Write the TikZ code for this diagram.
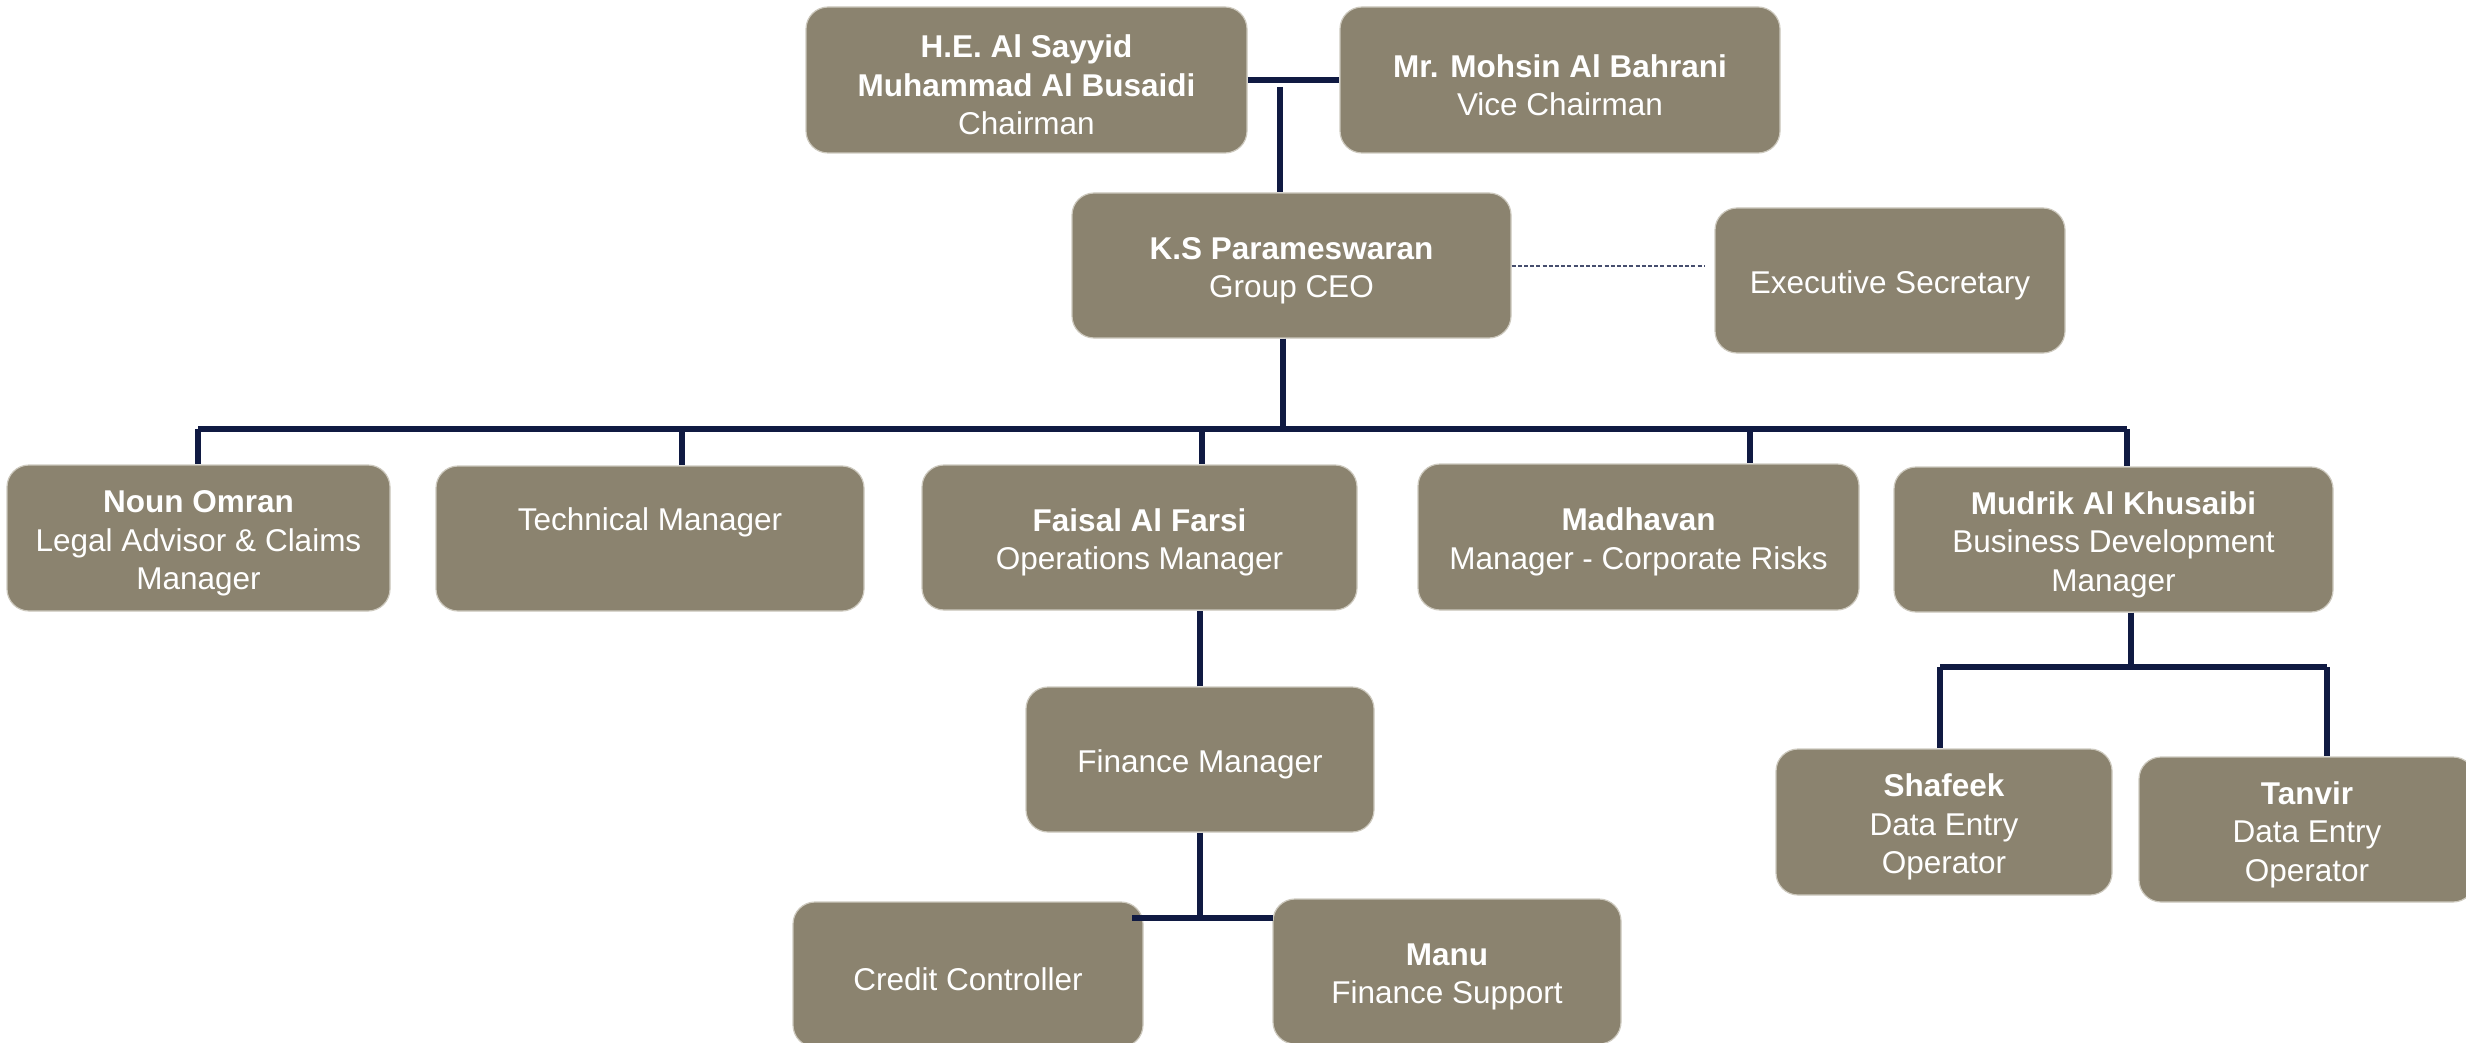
\documentclass[tikz,border=0pt]{standalone}
\usepackage{fontspec}
\setmainfont{Liberation Sans}
\definecolor{boxfill}{RGB}{139,131,111}
\definecolor{boxedge}{RGB}{205,201,190}
\definecolor{navy}{RGB}{16,26,66}
\definecolor{dashcol}{RGB}{70,78,110}
\newcommand{\fstrut}{\rule{0pt}{16.5pt}}
\begin{document}
\begin{tikzpicture}[x=0.5pt,y=-0.5pt,
  orgbox/.style={draw=boxedge, line width=0.6pt, fill=boxfill, rounded corners=11pt,
    text=white, align=center, inner sep=0pt,
    font=\fontsize{15.75}{19.25}\selectfont},
  link/.style={draw=navy, line width=2.6pt},
  dotlink/.style={draw=dashcol, line width=0.9pt, dash pattern=on 2pt off 1.1pt}]
\useasboundingbox (0,0) rectangle (2466,1043);

% boxes
\node[orgbox, minimum width=220.5pt, minimum height=73pt] (chair) at (1026.5,80)
  {\fstrut\textbf{H.E. Al Sayyid}\\\textbf{Muhammad Al Busaidi}\\Chairman};
\node[orgbox, minimum width=220pt, minimum height=73pt] (vice) at (1560,80)
  {\fstrut\textbf{Mr. Mohsin Al Bahrani}\\Vice Chairman};
\node[orgbox, minimum width=219.5pt, minimum height=72.5pt] (ceo) at (1291.5,265.5)
  {\fstrut\textbf{K.S Parameswaran}\\Group CEO};
\node[orgbox, minimum width=175pt, minimum height=72.5pt] (exec) at (1890,280.5)
  {\fstrut Executive Secretary};
\node[orgbox, minimum width=191.5pt, minimum height=73pt] (noun) at (198.5,538)
  {\fstrut\textbf{Noun Omran}\\Legal Advisor \& Claims\\Manager};
\node[orgbox, minimum width=214pt, minimum height=72.5pt,
  label={[text=white, font=\fontsize{15.75}{19.25}\selectfont, yshift=8pt]center:Technical Manager}] (tech) at (650,538.5) {};
\node[orgbox, minimum width=217.5pt, minimum height=72.5pt] (faisal) at (1139.5,537.5)
  {\fstrut\textbf{Faisal Al Farsi}\\Operations Manager};
\node[orgbox, minimum width=220.5pt, minimum height=73pt] (madh) at (1638.5,537)
  {\fstrut\textbf{Madhavan}\\Manager - Corporate Risks};
\node[orgbox, minimum width=219.5pt, minimum height=72.5pt] (mudrik) at (2113.5,539.5)
  {\fstrut\textbf{Mudrik Al Khusaibi}\\Business Development\\Manager};
\node[orgbox, minimum width=174pt, minimum height=72.5pt] (fin) at (1200,759.5)
  {\fstrut Finance Manager};
\node[orgbox, minimum width=175pt, minimum height=72.5pt] (credit) at (968,974.5)
  {\fstrut Credit Controller};
\node[orgbox, minimum width=174pt, minimum height=72.5pt] (manu) at (1447,971.5)
  {\fstrut\textbf{Manu}\\Finance Support};
\node[orgbox, minimum width=168pt, minimum height=73pt] (shaf) at (1944,822)
  {\fstrut\textbf{Shafeek}\\Data Entry\\Operator};
\node[orgbox, minimum width=168pt, minimum height=72.5pt] (tanv) at (2307,829.5)
  {\fstrut\textbf{Tanvir}\\Data Entry\\Operator};

% top connectors
\draw[link] (chair.east) -- (vice.west);
\coordinate (j1) at (1280,87);
\draw[link] (j1) -- (j1 |- ceo.north);
\coordinate (es) at (1705,266);
\draw[dotlink] (ceo.east |- es) -- (es);

% CEO bus
\coordinate (busL) at (198,429);
\coordinate (busR) at (2127,429);
\coordinate (ceoDrop) at (1283,429);
\draw[link] (ceo.south -| ceoDrop) -- (ceoDrop);
\draw[link] (busL) -- (busR);
\draw[link] (busL) -- (busL |- noun.north);
\coordinate (dTech) at (682,429);
\draw[link] (dTech) -- (dTech |- tech.north);
\coordinate (dFai) at (1202,429);
\draw[link] (dFai) -- (dFai |- faisal.north);
\coordinate (dMad) at (1750,429);
\draw[link] (dMad) -- (dMad |- madh.north);
\draw[link] (busR) -- (busR |- mudrik.north);

% finance branch
\draw[link] (fin.north) -- (fin.north |- faisal.south);
\coordinate (fb) at (1200,918);
\coordinate (fbL) at (1132,918);
\coordinate (fbR) at (1273,918);
\draw[link] (fin.south) -- (fb);
\draw[link] (fbL) -- (fbR);

% business development branch
\coordinate (mb) at (2131,667);
\coordinate (mbL) at (1940,667);
\coordinate (mbR) at (2327,667);
\draw[link] (mudrik.south -| mb) -- (mb);
\draw[link] (mbL) -- (mbR);
\draw[link] (mbL) -- (mbL |- shaf.north);
\draw[link] (mbR) -- (mbR |- tanv.north);
\end{tikzpicture}
\end{document}
